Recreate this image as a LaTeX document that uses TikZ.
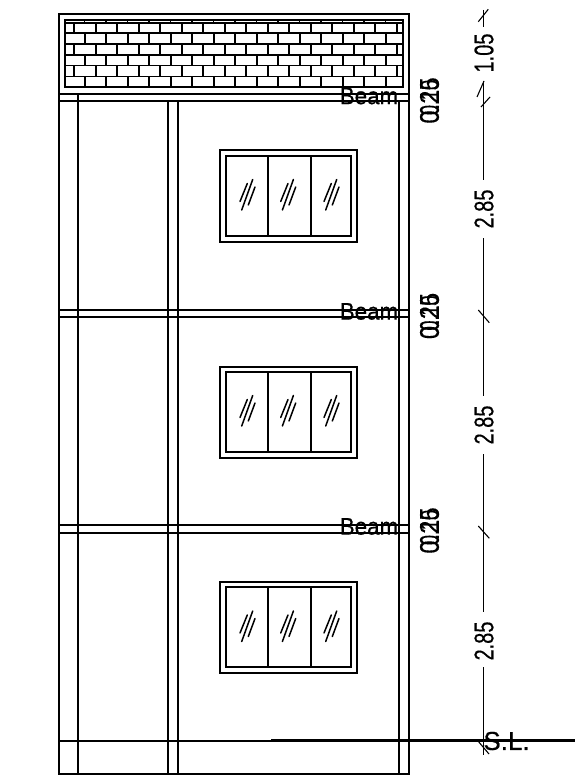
\documentclass[tikz,border=0pt]{standalone}
\usepackage{fontspec}
\setmainfont{Liberation Sans}
\newfontfamily\cadfont[FakeBold=0.4]{Liberation Sans}
\tikzset{
  wall/.style={line width=2pt,black},
  brick/.style={line width=2pt,black},
  course/.style={line width=1.5pt,black},
  glass/.style={line width=1.5pt,black,line cap=round},
  dimline/.style={line width=1.1pt,black},
  beamlabel/.style={inner sep=0pt,font=\cadfont\fontsize{24}{24}\selectfont,xscale=.93},
  dimlabel/.style={inner sep=0pt,rotate=90,xscale=.74,font=\cadfont\fontsize{27}{27}\selectfont},
  sizelabel/.style={inner sep=0pt,rotate=90,xscale=.88,font=\cadfont\fontsize{27}{27}\selectfont},
}
\begin{document}
\begin{tikzpicture}[x=1pt,y=-1pt]
\useasboundingbox (0,0) rectangle (575,778);
% outer frame
\draw[wall] (58.5,14.5) rectangle (408.5,774);
\draw[wall] (58.5,94.5) -- (408.5,94.5);
\draw[wall] (58.5,101) -- (408.5,101);
\draw[wall] (77.5,94.5) -- (77.5,774);
\draw[wall] (168,101) -- (168,774);
\draw[wall] (177.5,101) -- (177.5,774);
\draw[wall] (398.7,101) -- (398.7,774);
% beams
\foreach \ya/\yb in {309.5/316.7,525/532.5}{
  \draw[wall] (58.5,\ya) -- (408.5,\ya);
  \draw[wall] (58.5,\yb) -- (408.5,\yb);
}
% ground
\draw[wall] (58.5,740.5) -- (271,740.5);
\draw[line width=2.2pt] (271,740.5) -- (575,740.5);
% brick wall
\draw[line width=2pt] (64.5,20.5) rectangle (403,87);
\foreach \y in {23,33,44,55,65.5,76.5}{
  \draw[course] (64.5,\y) -- (403,\y);
}
\foreach \k in {0,...,14}{
  \pgfmathsetmacro{\xb}{84.5+21.5*\k}
  \draw[line width=1.2pt] (\xb,20.5) -- (\xb,23);
  \draw[brick] (\xb,33) -- (\xb,44);
  \draw[brick] (\xb,55) -- (\xb,65.5);
  \draw[brick] (\xb,76.5) -- (\xb,87);
}
\foreach \k in {0,...,15}{
  \pgfmathsetmacro{\xa}{74+21.5*\k}
  \draw[brick] (\xa,23) -- (\xa,33);
  \draw[brick] (\xa,44) -- (\xa,55);
  \draw[brick] (\xa,65.5) -- (\xa,76.5);
}
% windows
\foreach \dy in {0,216,431.5}{
  \begin{scope}[yshift=-\dy pt]
    \draw[wall] (220.3,150.5) rectangle (356.5,241.5);
    \draw[wall] (225.7,155.7) rectangle (350.5,235.7);
    \draw[wall] (268.3,155.7) -- (268.3,235.7);
    \draw[wall] (310.7,155.7) -- (310.7,235.7);
    \foreach \dx in {0,40.7,84}{
      \draw[glass] (252.7+\dx,179.5) -- (241.7+\dx,210);
      \draw[glass] (247.3+\dx,183.5) -- (240+\dx,201.5);
      \draw[glass] (255+\dx,187) -- (248.3+\dx,205);
    }
  \end{scope}
}
% beam labels
\node[beamlabel] (b1) at (369,96) {Beam};
\node[beamlabel] (b2) at (369,311.5) {Beam};
\node[beamlabel] (b3) at (369,526.5) {Beam};
% section sizes (overprinted in the drawing)
\foreach \n/\y in {s1/100.5,s2/316,s3/530.5}{
  \node[sizelabel] (\n a) at (429.5,\y) {0.25};
  \node[sizelabel,xscale=.76] (\n b) at (429.5,\y-3) {0.10};
}
% dimension line
\coordinate (d0) at (483.5,10);
\coordinate (d1) at (483.5,27);
\coordinate (d2) at (483.5,81);
\coordinate (d3) at (483.5,180);
\coordinate (d4) at (483.5,238);
\coordinate (d5) at (483.5,396);
\coordinate (d6) at (483.5,454);
\coordinate (d7) at (483.5,612);
\coordinate (d8) at (483.5,667);
\coordinate (d9) at (483.5,755);
\draw[dimline] (d0) -- (d1);
\draw[dimline] (d2) -- (d3);
\draw[dimline] (d4) -- (d5);
\draw[dimline] (d6) -- (d7);
\draw[dimline] (d8) -- (d9);
% ticks
\draw[dimline] (488.3,9.3) -- (478.3,21.7);
\draw[dimline] (484,81) -- (477,97);
\draw[dimline] (490,97) -- (481,107);
\draw[dimline] (478.3,310) -- (489.3,322.7);
\draw[dimline] (478.3,526) -- (489.3,538.3);
\draw[dimline] (478,741) -- (489,754);
% dimension labels
\node[dimlabel] (l0) at (484,53) {1.05};
\node[dimlabel] (l1) at (484,209) {2.85};
\node[dimlabel] (l2) at (484,425) {2.85};
\node[dimlabel] (l3) at (484,641) {2.85};
\node[inner sep=0pt,font=\cadfont\fontsize{26}{26}\selectfont] (sl) at (506.5,741) {S.L.};
\end{tikzpicture}
\end{document}
